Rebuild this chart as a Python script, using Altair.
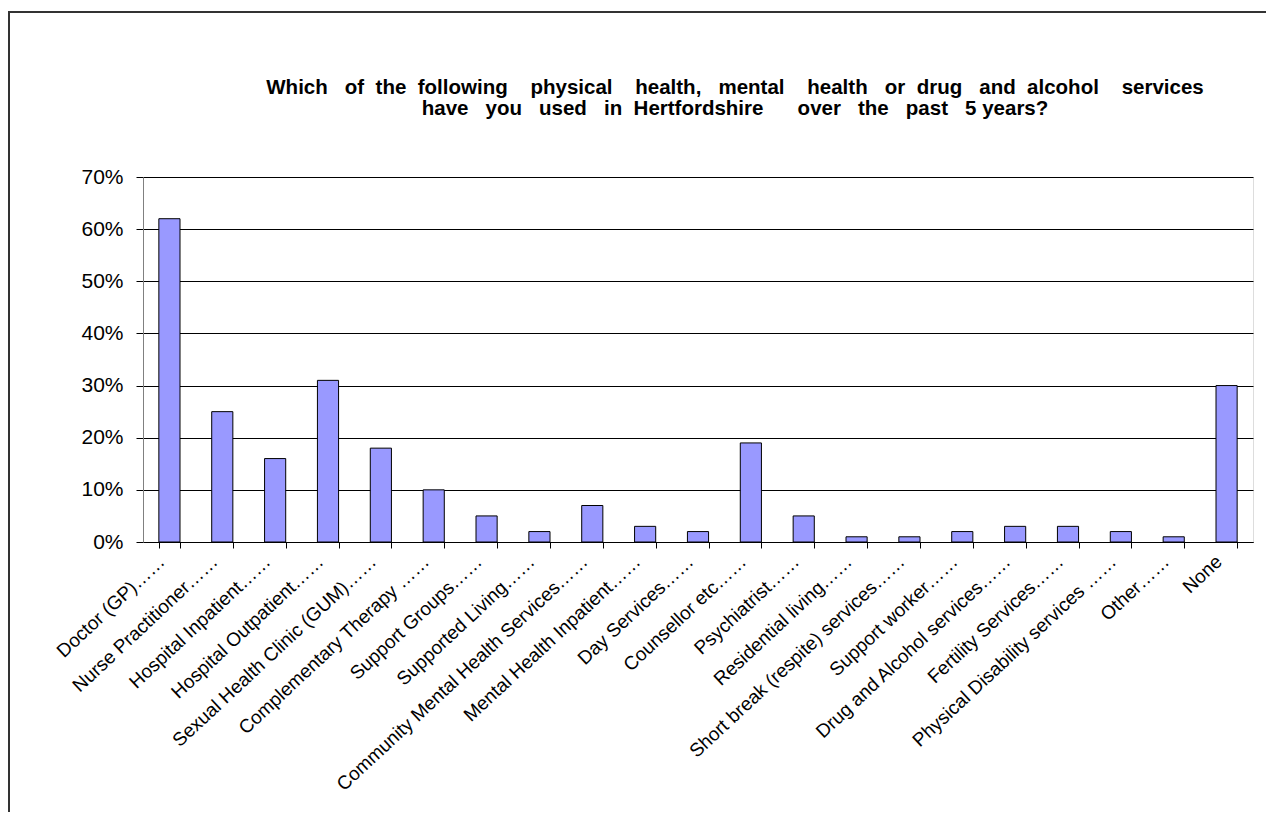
import altair as alt
import pandas as pd

services = [
    "Doctor (GP)……", "Nurse Practitioner……", "Hospital Inpatient……",
    "Hospital Outpatient……", "Sexual Health Clinic (GUM)……",
    "Complementary Therapy ……", "Support Groups……", "Supported Living……",
    "Community Mental Health Services……", "Mental Health Inpatient……",
    "Day Services……", "Counsellor etc……", "Psychiatrist……",
    "Residential living……", "Short break (respite) services……",
    "Support worker……", "Drug and Alcohol services……", "Fertility Services……",
    "Physical Disability services ……", "Other……", "None",
]
share = [0.62, 0.25, 0.16, 0.31, 0.18, 0.10, 0.05, 0.02, 0.07, 0.03, 0.02,
         0.19, 0.05, 0.01, 0.01, 0.02, 0.03, 0.03, 0.02, 0.01, 0.30]
y_ticks = [0, 0.1, 0.2, 0.3, 0.4, 0.5, 0.6, 0.7]

NB = "\u00a0"
title_lines = [
    f"Which{NB*3}of{NB*2}the{NB*2}following{NB*4}physical{NB*4}health,{NB*3}mental{NB*4}health{NB*3}or{NB*2}drug{NB*3}and{NB*2}alcohol{NB*4}services",
    f"have{NB*3}you{NB*3}used{NB*3}in{NB*2}Hertfordshire{NB*6}over{NB*3}the{NB*3}past{NB*3}5{NB}years?",
]

df = pd.DataFrame({"service": services, "share": share})
title_df = pd.DataFrame({"line": title_lines, "row": [0, 1]})

W, H = 1110, 365

bars = alt.Chart(df).mark_bar(
    color="#9999FF", stroke="black", strokeWidth=1
).encode(
    x=alt.X("service:N", sort=None, title=None,
            scale=alt.Scale(paddingInner=0.6, paddingOuter=0.3),
            axis=alt.Axis(labelAngle=-43, labelFontSize=19, labelFont="Liberation Sans",
                          labelColor="black", tickBand="extent", tickSize=6,
                          labelAlign="right", labelBaseline="middle",
                          labelOffset=-8, labelPadding=10.5,
                          tickColor="black", domainColor="black", labelLimit=600)),
    y=alt.Y("share:Q", title=None,
            scale=alt.Scale(domain=[0, 0.7], nice=False),
            axis=alt.Axis(values=y_ticks, format=".0%", labelFontSize=21,
                          labelFont="Liberation Sans", labelColor="black",
                          tickSize=7, tickColor="black", domainColor="#808080",
                          gridColor="black", gridWidth=1, labelPadding=13)),
)

title_style = dict(font="Liberation Sans", fontSize=20.5, fontWeight="bold",
                   color="black", align="center", baseline="alphabetic")
title1 = alt.Chart(title_df).transform_filter("datum.row == 0").mark_text(
    **title_style).encode(text="line:N", x=alt.value(592), y=alt.value(-83))
title2 = alt.Chart(title_df).transform_filter("datum.row == 1").mark_text(
    **title_style).encode(text="line:N", x=alt.value(592), y=alt.value(-62))

frame_left = alt.Chart(df).mark_rule(color="#333333", strokeWidth=2).encode(
    x=alt.value(-134.5), y=alt.value(-165), y2=alt.value(700))
frame_top = alt.Chart(df).mark_rule(color="#333333", strokeWidth=2).encode(
    x=alt.value(-135.5), x2=alt.value(1140), y=alt.value(-165))

chart = alt.layer(bars, title1, title2, frame_left, frame_top).properties(
    width=W, height=H,
    autosize=alt.AutoSizeParams(type="none"),
    padding={"left": 135, "top": 169, "right": 13, "bottom": 270},
).configure_view(stroke=None).configure(background="white")

chart.save("out.html", embed_options={"renderer": "svg", "actions": False})
